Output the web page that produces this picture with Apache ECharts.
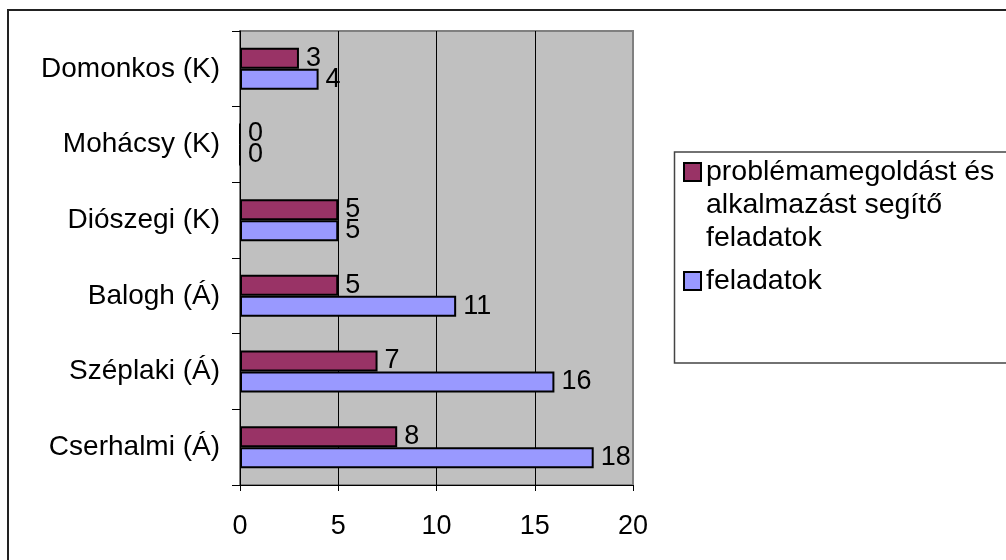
<!DOCTYPE html>
<html>
<head>
<meta charset="utf-8">
<script src="https://cdn.jsdelivr.net/npm/echarts@6/dist/echarts.min.js"></script>
<style>
html,body{margin:0;padding:0;background:#fff;}
#chart{width:1006px;height:560px;}
</style>
</head>
<body>
<div id="chart"></div>
<script>
const categories = ['Cserhalmi (Á)', 'Széplaki (Á)', 'Balogh (Á)', 'Diószegi (K)', 'Mohácsy (K)', 'Domonkos (K)'];
const seriesNames = ['problémamegoldást és alkalmazást segítő feladatok', 'feladatok'];
const legendLines = ['problémamegoldást és', 'alkalmazást segítő', 'feladatok'];
const problemSolving = [8, 7, 5, 5, 0, 3];
const tasks = [18, 16, 11, 5, 0, 4];
const xMin = 0, xMax = 20, xStep = 5;

const FONT = "'Liberation Sans', Arial, sans-serif";
const chart = echarts.init(document.getElementById('chart'));

const labelStyle = { show: true, position: 'right', distance: 7, color: '#000', fontSize: 27, fontFamily: FONT };

chart.setOption({
  animation: false,
  backgroundColor: '#fff',
  textStyle: { fontFamily: FONT },
  graphic: [
    { type: 'rect', silent: true, z: -1, shape: { x: 8, y: 10, width: 1010, height: 570 }, style: { fill: 'none', stroke: '#222', lineWidth: 2 } },
    { type: 'rect', silent: true, z: -1, shape: { x: 674.5, y: 152, width: 400, height: 211 }, style: { fill: 'none', stroke: '#444', lineWidth: 1.5 } }
  ],
  legend: [
    {
      data: [seriesNames[0]], orient: 'vertical', left: 683, top: 89.5, padding: 0,
      itemWidth: 17, itemHeight: 18, icon: 'rect',
      // two leading empty lines keep the marker level with the first text line
      formatter: function () { return '\n\n' + legendLines.join('\n'); },
      textStyle: { color: '#000', fontSize: 28.5, fontFamily: FONT, lineHeight: 33 }
    },
    {
      data: [seriesNames[1]], orient: 'vertical', left: 683, top: 264.5, padding: 0,
      itemWidth: 17, itemHeight: 18, icon: 'rect',
      textStyle: { color: '#000', fontSize: 28.5, fontFamily: FONT, lineHeight: 33 }
    }
  ],
  grid: { left: 240, right: 373, top: 31, bottom: 75, show: true, backgroundColor: '#C0C0C0', borderColor: '#808080', borderWidth: 2 },
  xAxis: {
    type: 'value', min: xMin, max: xMax, interval: xStep,
    axisLine: { show: true, lineStyle: { color: '#000', width: 1 } },
    axisTick: { show: true, length: 6, lineStyle: { color: '#000' } },
    axisLabel: { color: '#000', fontSize: 27, fontFamily: FONT, margin: 28 },
    splitLine: { show: true, showMinLine: false, showMaxLine: false, lineStyle: { color: '#000', width: 1 } }
  },
  yAxis: {
    type: 'category', data: categories,
    axisLine: { show: true, lineStyle: { color: '#000', width: 1 } },
    axisTick: { show: true, length: 8, alignWithLabel: false, lineStyle: { color: '#000' } },
    axisLabel: { color: '#000', fontSize: 28, fontFamily: FONT, margin: 20 },
    splitLine: { show: false }
  },
  series: [
    {
      name: seriesNames[0], type: 'bar', data: problemSolving, barWidth: 21, barGap: '0%',
      itemStyle: { color: '#993366', borderColor: '#000', borderWidth: 2 },
      label: labelStyle
    },
    {
      name: seriesNames[1], type: 'bar', data: tasks, barWidth: 21, barGap: '0%',
      itemStyle: { color: '#9999FF', borderColor: '#000', borderWidth: 2 },
      label: labelStyle
    }
  ]
});
</script>
</body>
</html>
